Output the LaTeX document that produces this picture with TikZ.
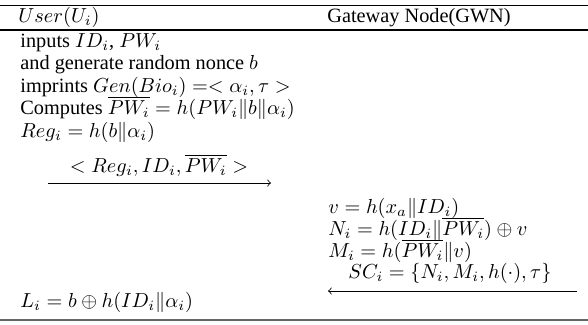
\documentclass[tikz,border=0pt]{standalone}
\usepackage{amsmath}
\usepackage{amssymb}
\usepackage{fontspec}
\setmainfont{Liberation Serif}
\usepackage{xcolor}
\usetikzlibrary{calc}

\begin{document}
\begin{tikzpicture}[x=0.4926pt, y=-0.4926pt,
  txt/.style={anchor=base west, inner sep=0pt},
  msg/.style={anchor=base, inner sep=0pt}]
\useasboundingbox (0,0) rectangle (588,324);
% rules
\draw[line width=0.5pt] (0,5) -- (588,5);
\draw[line width=0.7pt] (0,30) -- (588,30);
\draw[line width=1pt, black!60] (0,320) -- (588,320);
% header
\node[txt] (user) at (18,22) {$User(U_i)$};
\node[txt] (gwn) at (327,22) {Gateway Node(GWN)};
% user side
\node[txt] (u1) at (20,47) {inputs $ID_i$, $PW_i$};
\node[txt] (u2) at (20,69.5) {and generate random nonce $b$};
\node[txt] (u3) at (20,92) {imprints $Gen(Bio_i) =< \alpha_i, \tau >$};
\node[txt] (u4) at (20,114.5) {Computes $\overline{PW_i} = h(PW_i \| b \| \alpha_i)$};
\node[txt] (u5) at (20,137) {$Reg_i = h(b \| \alpha_i)$};
\node[msg] (m1) at (159,172) {$< Reg_i, ID_i, \overline{PW_i} >$};
\coordinate (a1) at (48,183);
\coordinate (b1) at (271,183);
\draw[->, line width=0.4pt] (a1) -- (b1);
% gateway side
\node[txt] (g1) at (328,213) {$v = h(x_a \| ID_i)$};
\node[txt] (g2) at (328,235) {$N_i = h(ID_i \| \overline{PW_i}) \oplus v$};
\node[txt] (g3) at (328,257) {$M_i = h(\overline{PW_i} \| v)$};
\node[msg] (m2) at (450,278) {$SC_i = \{N_i, M_i, h(\cdot), \tau\}$};
\coordinate (a2) at (577,291);
\coordinate (b2) at (328,291);
\draw[->, line width=0.4pt] (a2) -- (b2);
% login
\node[txt] (l1) at (20,307) {$L_i = b \oplus h(ID_i \| \alpha_i)$};
\end{tikzpicture}
\end{document}
